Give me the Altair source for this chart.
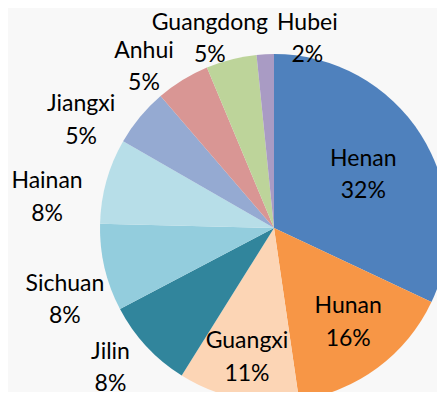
import math
import altair as alt
import pandas as pd

provinces = ["Henan", "Hunan", "Guangxi", "Jilin", "Sichuan", "Hainan",
             "Jiangxi", "Anhui", "Guangdong", "Hubei"]
shares = [32.0, 15.7, 11.2, 8.4, 8.1, 7.9, 5.4, 5.0, 4.7, 1.6]
pct_labels = ["32%", "16%", "11%", "8%", "8%", "8%", "5%", "5%", "5%", "2%"]
colors = ["#4F81BD", "#F79646", "#FCD5B5", "#31859C", "#93CDDD", "#B7DEE8",
          "#95AAD2", "#D99694", "#BDD49A", "#A99BC4"]

# label placement (Excel "best fit" style): angle clockwise from 12 o'clock, radius in px
label_angle_deg = [59.2, 141.8, 191.8, 229.5, 251.1, 277.7, 299.2, 321.1, 341.3, 10.0]
label_radius = [104, 120, 132, 215, 221, 229, 221, 207, 200, 192]

df = pd.DataFrame({
    "province": provinces,
    "share": shares,
    "order": list(range(len(provinces))),
    "label": [f"{p}\n{l}" for p, l in zip(provinces, pct_labels)],
    "lab_theta": [math.radians(a) for a in label_angle_deg],
    "lab_r": label_radius,
})

CX, CY, R = 266, 220, 174

base = alt.Chart(df)

pie = base.mark_arc(outerRadius=R, stroke=None).encode(
    theta=alt.Theta("share:Q", stack=True, scale=alt.Scale(domain=[0, 100])),
    order=alt.Order("order:Q"),
    color=alt.Color("province:N", scale=alt.Scale(domain=provinces, range=colors), legend=None),
    x=alt.value(CX),
    y=alt.value(CY),
)

labels = base.mark_text(
    font="Lato", fontSize=23, color="#000000", lineBreak="\n", lineHeight=32.5,
    align="center", baseline="middle", dy=-16,
).encode(
    theta=alt.Theta("lab_theta:Q", scale=None),
    radius=alt.Radius("lab_r:Q", scale=None),
    text="label:N",
    x=alt.value(CX),
    y=alt.value(CY),
)

chart = alt.layer(pie, labels).resolve_scale(theta="independent").properties(
    width=429, height=384, padding=0,
    autosize=alt.AutoSizeParams(type="none"),
    background="#F8F8F8",
).configure_view(stroke=None)

chart.save("out.html", embed_options={"renderer": "svg", "actions": False})
